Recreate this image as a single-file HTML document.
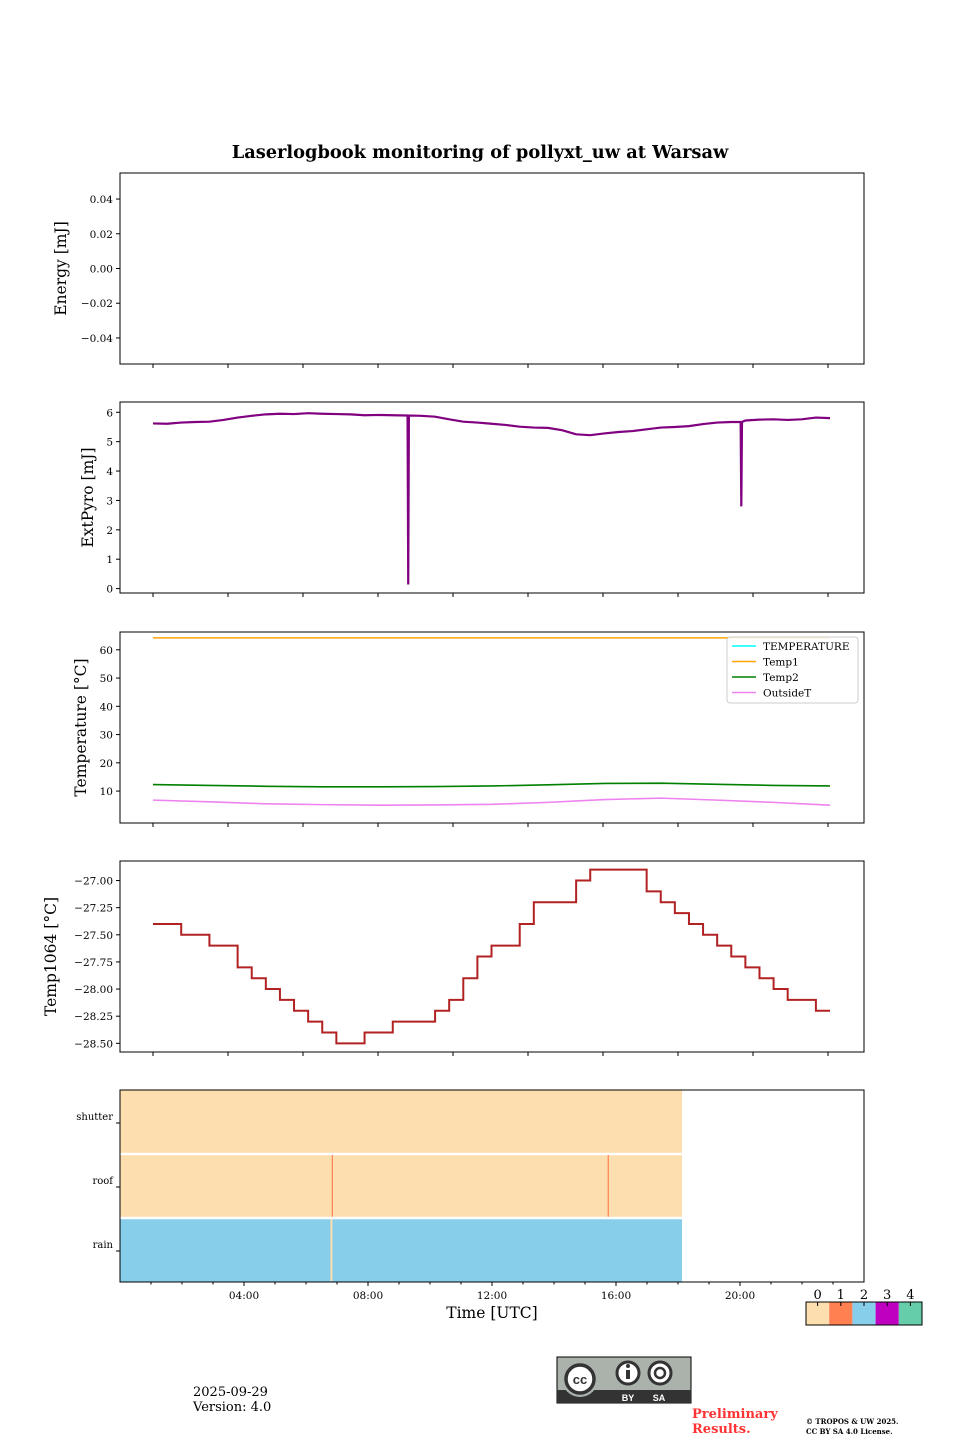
<!DOCTYPE html>
<html><head><meta charset="utf-8"><style>
body{margin:0;background:#fff;}
svg{display:block;font-family:"DejaVu Serif","Liberation Serif",serif;}
</style></head><body>
<svg id="fig" width="960" height="1440" viewBox="0 0 960 1440" xmlns="http://www.w3.org/2000/svg">
<rect width="960" height="1440" fill="#fff"/>
<text x="480" y="158" text-anchor="middle" font-size="17.8" font-weight="bold">Laserlogbook monitoring of pollyxt_uw at Warsaw</text>
<g id="g"></g>
<text x="492" y="1318" text-anchor="middle" font-size="15.5">Time [UTC]</text>
<text x="193" y="1396" font-size="13">2025-09-29</text>
<text x="193" y="1411" font-size="13">Version: 4.0</text>
<g>
<rect x="557" y="1357" width="134" height="46" fill="#aab2ab" stroke="#000" stroke-width="1"/>
<rect x="557" y="1390" width="134" height="13" fill="#333"/>
<circle cx="580" cy="1379" r="18" fill="#aab2ab"/>
<circle cx="580" cy="1379" r="14" fill="#fff" stroke="#333" stroke-width="3.5"/>
<text x="580" y="1384" text-anchor="middle" font-size="13" font-weight="bold" font-family="Liberation Sans,sans-serif" fill="#333">cc</text>
<circle cx="628" cy="1373" r="11" fill="#fff" stroke="#333" stroke-width="3"/>
<rect x="626" y="1370" width="4" height="9" fill="#333"/><circle cx="628" cy="1366" r="2" fill="#333"/>
<circle cx="660" cy="1373" r="11" fill="#fff" stroke="#333" stroke-width="3"/>
<circle cx="660" cy="1373" r="5" fill="none" stroke="#333" stroke-width="2.5"/>
<text x="628" y="1401" text-anchor="middle" font-size="9" font-weight="bold" font-family="Liberation Sans,sans-serif" fill="#fff">BY</text>
<text x="659" y="1401" text-anchor="middle" font-size="9" font-weight="bold" font-family="Liberation Sans,sans-serif" fill="#fff">SA</text>
</g>
<text x="692" y="1418" font-size="13" font-weight="bold" fill="#ff3333">Preliminary</text>
<text x="692" y="1433" font-size="13" font-weight="bold" fill="#ff3333">Results.</text>
<text x="806" y="1424" font-size="7" font-weight="bold">© TROPOS &amp; UW 2025.</text>
<text x="806" y="1434" font-size="7" font-weight="bold">CC BY SA 4.0 License.</text>
</svg>
<script>
const pyroVals=[5.62,5.61,5.65,5.67,5.68,5.74,5.82,5.88,5.93,5.95,5.94,5.97,5.95,5.94,5.93,5.9,5.91,5.9,5.89,5.88,5.85,5.76,5.68,5.65,5.61,5.57,5.51,5.48,5.47,5.39,5.25,5.22,5.28,5.33,5.36,5.42,5.48,5.5,5.53,5.6,5.65,5.67,5.72,5.75,5.76,5.74,5.76,5.82,5.8];
const pyroSpikeAt=[0.377,0.869];
const pyroSpikeVals=[0.14,2.8];
const t1064Vals=[-27.4,-27.4,-27.5,-27.5,-27.6,-27.6,-27.8,-27.9,-28.0,-28.1,-28.2,-28.3,-28.4,-28.5,-28.5,-28.4,-28.4,-28.3,-28.3,-28.3,-28.2,-28.1,-27.9,-27.7,-27.6,-27.6,-27.4,-27.2,-27.2,-27.2,-27.0,-26.9,-26.9,-26.9,-26.9,-27.1,-27.2,-27.3,-27.4,-27.5,-27.6,-27.7,-27.8,-27.9,-28.0,-28.1,-28.1,-28.2,-28.2];
const temp1Vals=[64.2,64.2,64.2,64.2,64.2,64.2,64.2,64.2,64.2,64.2,64.2,64.2,64.2];
const temp2Vals=[12.3,12.0,11.7,11.5,11.5,11.6,11.8,12.2,12.7,12.8,12.4,12.0,11.8];
const outsideVals=[6.8,6.2,5.5,5.2,5.0,5.1,5.3,6.0,7.0,7.5,6.8,6.0,5.0];
const energyTicks=[0.04,0.02,0.00,-0.02,-0.04];
const pyroTicks=[6,5,4,3,2,1,0];
const tempTicks=[60,50,40,30,20,10];
const t1064Ticks=[-27.00,-27.25,-27.50,-27.75,-28.00,-28.25,-28.50];
const statusRows=["shutter","roof","rain"];
const statusEndHour=18.13;
const roofEventHours=[6.85,15.75];
const rainEventHours=[6.82];
const timeTickLabels=["04:00","08:00","12:00","16:00","20:00"];
const colorbarLabels=["0","1","2","3","4"];
const statusColors=["#fddeae","#ff8050","#87ceeb","#c000c0","#66cdaa"];

const NS="http://www.w3.org/2000/svg";
const G=document.getElementById('g');
function mk(t,a,p){const e=document.createElementNS(NS,t);for(const k in a)e.setAttribute(k,a[k]);(p||G).appendChild(e);return e;}
const X0=120,X1=864,D0=153,D1=830;
function fx(f){return D0+f*(D1-D0);}
function panel(name,top,bot,ymin,ymax,ticks,fmt,ylabel,labelX){
  const g=mk('g',{});
  
  
  const y=v=>bot-(v-ymin)/(ymax-ymin)*(bot-top);
  ticks.forEach(t=>{
    const yy=y(t);
    const l=mk('line',{x1:X0-4,x2:X0,y1:yy,y2:yy,stroke:'#000'},g);
    
    const tx=mk('text',{x:X0-7,y:yy+4,'text-anchor':'end','font-size':'10.5'},g);
    
    tx.textContent=fmt(t);
  });
  for(let k=0;k<10;k++){const xx=D0+75*k;mk('line',{x1:xx,x2:xx,y1:bot,y2:bot+4,stroke:'#000'},g);}
  const lab=mk('text',{x:0,y:0,'text-anchor':'middle','font-size':'15.5',transform:`translate(${labelX},${(top+bot)/2}) rotate(-90)`},g);
  
  lab.textContent=ylabel;
  return {g,y,top,bot};
}
function frame(p){mk('rect',{x:X0,y:p.top,width:X1-X0,height:p.bot-p.top,fill:'none',stroke:'#000','stroke-width':1},p.g);}
function line(p,vals,color,w,name,step){
  const n=vals.length-1;let d='';
  vals.forEach((v,i)=>{const xx=fx(i/n),yy=p.y(v);
    if(i===0)d+=`M${xx},${yy}`;else if(step){d+=`H${xx}V${yy}`;}else d+=`L${xx},${yy}`;});
  const e=mk('path',{d,fill:'none',stroke:color,'stroke-width':w},p.g);
  
}
const p1=panel('energy-panel',173,364,-0.055,0.055,energyTicks,v=>v.toFixed(2).replace('-','\u2212'),'Energy [mJ]',66);
frame(p1);
const p2=panel('extpyro-panel',402,593,-0.15,6.35,pyroTicks,v=>String(v),'ExtPyro [mJ]',93);
{const n=pyroVals.length-1;const pts=pyroVals.map((v,i)=>[i/n,v]);
 pyroSpikeAt.forEach((f,k)=>{const i=Math.floor(f*n);const base=pyroVals[i];pts.push([f-0.001,base]);pts.push([f,pyroSpikeVals[k]]);pts.push([f+0.001,base]);});
 pts.sort((a,b)=>a[0]-b[0]);
 const d=pts.map((p,i)=>(i?'L':'M')+fx(p[0])+','+p2.y(p[1])).join('');
 const e=mk('path',{d,fill:'none',stroke:'#800080','stroke-width':2.2},p2.g);
 }
frame(p2);
const p3=panel('temperature-panel',632,823,-1.3,66.3,tempTicks,v=>String(v),'Temperature [°C]',86);
line(p3,temp1Vals,'#ffa500',1.5,'temp1-line');
line(p3,temp2Vals,'#008000',1.6,'temp2-line');
line(p3,outsideVals,'#ee82ee',1.6,'outsidet-line');
frame(p3);
{const lg=mk('g',{},p3.g);
 
 mk('rect',{x:727,y:637,width:131,height:66,rx:3,fill:'#fff','fill-opacity':0.85,stroke:'#ccc'},lg);
 [['TEMPERATURE','#00ffff'],['Temp1','#ffa500'],['Temp2','#008000'],['OutsideT','#ee82ee']].forEach((e,i)=>{
  const yy=646+i*15.5;
  const en=mk('g',{},lg);
  
  mk('line',{x1:732,x2:756,y1:yy,y2:yy,stroke:e[1],'stroke-width':1.5},en);
  const t=mk('text',{x:763,y:yy+4,'font-size':'10.5'},en);t.textContent=e[0];
 });}
const p4=panel('temp1064-panel',861,1052,-28.58,-26.82,t1064Ticks,v=>v.toFixed(2).replace('-','\u2212'),'Temp1064 [°C]',56);
line(p4,t1064Vals,'#b22222',2,'temp1064-line',true);
frame(p4);
{const top=1090,bot=1282;const g=mk('g',{});
 
 const hx=h=>X0+h*(X1-X0)/24;
 const rowH=(bot-top)/statusRows.length;
 statusRows.forEach((r,i)=>{
  const y0=top+i*rowH;
  const col=r==='rain'?statusColors[2]:statusColors[0];
  const b=mk('rect',{x:X0,y:y0,width:hx(statusEndHour)-X0,height:rowH,fill:col},g);
  
  if(i>0)mk('line',{x1:X0,x2:hx(statusEndHour),y1:y0,y2:y0,stroke:'#fff','stroke-width':2.5},g);
  const yc=y0+rowH/2-5;
  mk('line',{x1:X0-4,x2:X0,y1:yc+6,y2:yc+6,stroke:'#000'},g);
  const t=mk('text',{x:X0-7,y:yc+3,'text-anchor':'end','font-size':'10'},g);
  
  t.textContent=r;
  if(r==='roof')roofEventHours.forEach(h=>mk('line',{x1:hx(h),x2:hx(h),y1:y0+1,y2:y0+rowH-1,stroke:statusColors[1],'stroke-width':1.2},g));
  if(r==='rain')rainEventHours.forEach(h=>mk('line',{x1:hx(h),x2:hx(h),y1:y0+1,y2:y0+rowH-1,stroke:statusColors[0],'stroke-width':2},g));
 });
 mk('rect',{x:X0,y:top,width:X1-X0,height:bot-top,fill:'none',stroke:'#000'},g);
 for(let h=1;h<24;h++){mk('line',{x1:hx(h),x2:hx(h),y1:bot,y2:bot+(h%4?2.5:4),stroke:'#000'},g);}
 timeTickLabels.forEach((l,k)=>{const t=mk('text',{x:hx(4*(k+1)),y:bot+17,'text-anchor':'middle','font-size':'10.5'},g);
  t.textContent=l;});
}
{const g=mk('g',{});
 const x0=806,w=116/colorbarLabels.length;
 colorbarLabels.forEach((l,i)=>{
  const r=mk('rect',{x:x0+i*w,y:1302,width:w,height:23,fill:statusColors[i]},g);
  
  const cx=x0+i*w+w/2;
  mk('line',{x1:cx,x2:cx,y1:1302,y2:1306,stroke:'#000'},g);
  const t=mk('text',{x:cx,y:1299,'text-anchor':'middle','font-size':'13'},g);t.textContent=l;
 });
 mk('rect',{x:x0,y:1302,width:116,height:23,fill:'none',stroke:'#000'},g);}
</script>
</body></html>
